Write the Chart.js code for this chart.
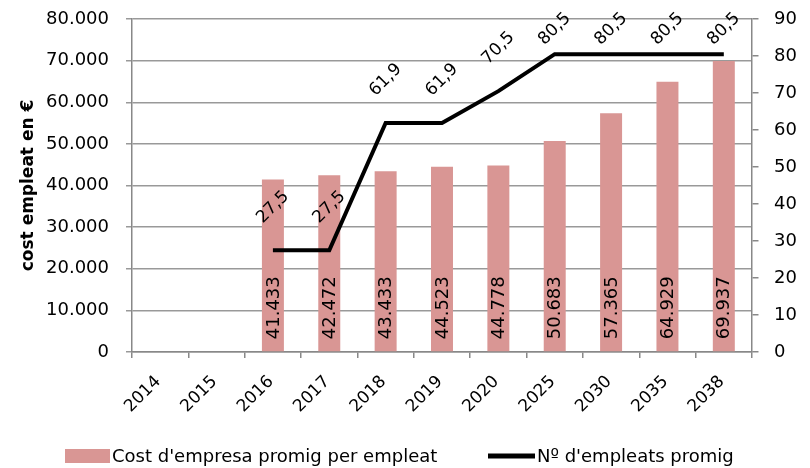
<!DOCTYPE html>
<html>
<head>
<meta charset="utf-8">
<script src="https://cdn.jsdelivr.net/npm/chart.js@4"></script>
<style>
  body { margin: 0; background: #fff; }
  #wrap { width: 810px; height: 468px; }
</style>
</head>
<body>
<div id="wrap"><canvas id="graf1"></canvas></div>
<script>
var anys = ['2014', '2015', '2016', '2017', '2018', '2019', '2020', '2025', '2030', '2035', '2038'];
var costEmpleat = [null, null, 41433, 42472, 43433, 44523, 44778, 50683, 57365, 64929, 69937];
var numEmpleats = [null, null, 27.5, 27.5, 61.9, 61.9, 70.5, 80.5, 80.5, 80.5, 80.5];

var FONT = "'DejaVu Sans', sans-serif";
var ROSA = '#D99694';

function fmtMiles(v) {
  return String(Math.round(v)).replace(/\B(?=(\d{3})+(?!\d))/g, '.');
}
function fmtComa(v) {
  return String(v).replace('.', ',');
}

// etiquetes de dades (barres en vertical, línia a 45 graus), anys de l'eix x i llegenda
var etiquetes = {
  id: 'etiquetes',
  afterDatasetsDraw: function(chart) {
    var ctx = chart.ctx;
    ctx.save();
    ctx.fillStyle = '#000';

    ctx.font = '18px ' + FONT;
    var barres = chart.getDatasetMeta(1);
    barres.data.forEach(function(el, i) {
      if (costEmpleat[i] == null) return;
      ctx.save();
      ctx.translate(el.x, el.base - 12);
      ctx.rotate(-Math.PI / 2);
      ctx.textAlign = 'left';
      ctx.textBaseline = 'middle';
      ctx.fillText(fmtMiles(costEmpleat[i]), 0, 1);
      ctx.restore();
    });

    ctx.font = '17px ' + FONT;
    var linia = chart.getDatasetMeta(0);
    linia.data.forEach(function(el, i) {
      if (numEmpleats[i] == null) return;
      var y = Math.max(el.y - 43, 29);
      ctx.save();
      ctx.translate(el.x, y);
      ctx.rotate(-Math.PI / 4);
      ctx.textAlign = 'center';
      ctx.textBaseline = 'middle';
      ctx.fillText(fmtComa(numEmpleats[i]), 0, 0);
      ctx.restore();
    });
    ctx.restore();
  },
  afterDraw: function(chart) {
    var ctx = chart.ctx;
    var ds = chart.data.datasets;
    var xs = chart.scales.x;
    ctx.save();

    ctx.fillStyle = '#000';
    ctx.font = '17px ' + FONT;
    chart.data.labels.forEach(function(lab, i) {
      ctx.save();
      ctx.translate(xs.getPixelForValue(i) - 2, xs.top + 27);
      ctx.rotate(-Math.PI / 4);
      ctx.textAlign = 'right';
      ctx.textBaseline = 'middle';
      ctx.fillText(lab, 0, 0);
      ctx.restore();
    });

    ctx.font = '18px ' + FONT;
    ctx.textBaseline = 'middle';
    ctx.textAlign = 'left';
    ctx.fillStyle = ROSA;
    ctx.fillRect(65, 449, 45, 14);
    ctx.fillStyle = '#000';
    ctx.fillText(ds[1].label, 112, 457);
    ctx.strokeStyle = '#000';
    ctx.lineWidth = 5;
    ctx.beginPath();
    ctx.moveTo(488, 456);
    ctx.lineTo(535, 456);
    ctx.stroke();
    ctx.fillText(ds[0].label, 537, 457);
    ctx.restore();
  }
};

var g1 = document.getElementById('graf1');
var chart = new Chart(g1, {
  type: 'bar',
  data: {
    labels: anys,
    datasets: [
      {
        type: 'line',
        label: "Nº d'empleats promig",
        data: numEmpleats,
        borderColor: '#000',
        backgroundColor: '#000',
        borderWidth: 4,
        pointRadius: 0,
        tension: 0,
        yAxisID: 'y1'
      },
      {
        label: "Cost d'empresa promig per empleat",
        data: costEmpleat,
        backgroundColor: ROSA,
        borderWidth: 0,
        barPercentage: 0.39,
        categoryPercentage: 1,
        yAxisID: 'y'
      }
    ]
  },
  options: {
    responsive: true,
    maintainAspectRatio: false,
    animation: false,
    layout: { padding: { top: 19, left: 0, right: 0, bottom: 0 } },
    plugins: {
      legend: { display: false },
      tooltip: { enabled: false }
    },
    scales: {
      x: {
        grid: {
          display: true,
          drawOnChartArea: false,
          offset: true,
          color: '#888',
          lineWidth: 1.5,
          tickLength: 6
        },
        border: { color: '#888', width: 1.5 },
        ticks: { display: false },
        afterFit: function(s) { s.height = 116; }
      },
      y: {
        position: 'left',
        min: 0,
        max: 80000,
        ticks: {
          stepSize: 10000,
          color: '#000',
          font: { family: FONT, size: 18 },
          padding: 0,
          callback: function(v) { return fmtMiles(v); }
        },
        // marca curta de 6 px tocant l'eix, la resta de la distància buida
        grid: { color: '#999', lineWidth: 1.5, tickLength: 23, tickBorderDash: [6, 17], tickBorderDashOffset: 6 },
        border: { color: '#888', width: 1.5 },
        title: {
          display: true,
          text: 'cost empleat en €',
          color: '#000',
          font: { family: FONT, size: 17, weight: 'bold' },
          padding: { top: 18, bottom: 0 }
        },
        afterFit: function(s) { s.width = 132; }
      },
      y1: {
        position: 'right',
        min: 0,
        max: 90,
        ticks: {
          stepSize: 10,
          color: '#000',
          font: { family: FONT, size: 18 },
          padding: 0
        },
        grid: { drawOnChartArea: false, color: '#888', lineWidth: 1.5, tickLength: 22, tickBorderDash: [6, 16], tickBorderDashOffset: 0 },
        border: { color: '#888', width: 1.5 },
        afterFit: function(s) { s.width = 58; }
      }
    }
  },
  plugins: [etiquetes]
});
</script>
</body>
</html>
